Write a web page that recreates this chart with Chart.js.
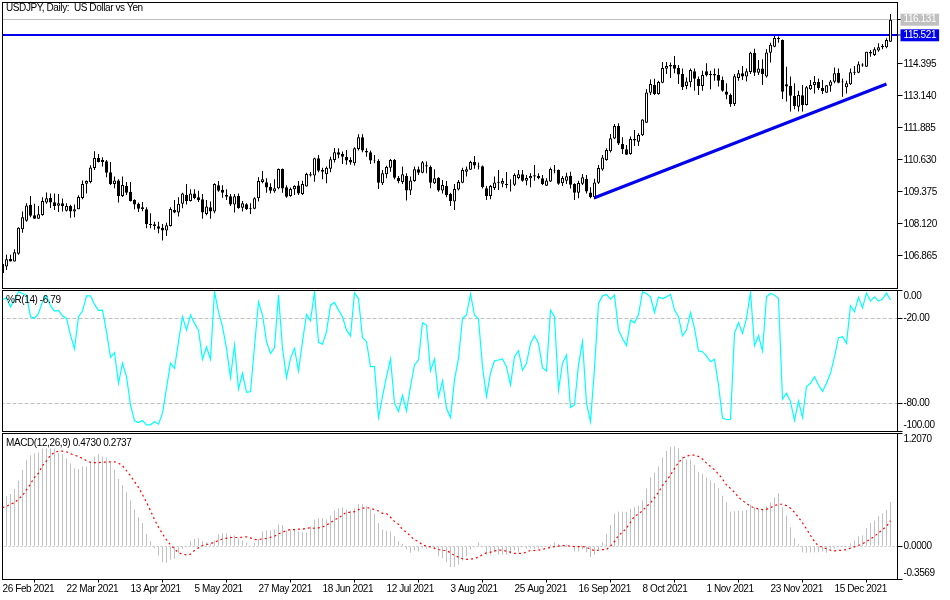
<!DOCTYPE html>
<html lang="en">
<head>
    <meta charset="UTF-8">
    <title>USDJPY, Daily</title>
    <script src="https://cdn.jsdelivr.net/npm/chart.js"></script>
    <style>
        html, body { margin: 0; padding: 0; background: #fff; }
        canvas { position: absolute; left: 0; }
    </style>
</head>
<body>
    <canvas id="priceChart" width="950" height="290" style="top:0"></canvas>
    <canvas id="wprChart" width="950" height="143" style="top:289px"></canvas>
    <canvas id="macdChart" width="950" height="168" style="top:432px"></canvas>
    <script>
        const tickLabels = ['26 Feb 2021', '22 Mar 2021', '13 Apr 2021', '5 May 2021', '27 May 2021', '18 Jun 2021', '12 Jul 2021',
            '3 Aug 2021', '25 Aug 2021', '16 Sep 2021', '8 Oct 2021', '1 Nov 2021', '23 Nov 2021', '15 Dec 2021'];
        const priceTicks = [116.131, 115.521, 114.395, 113.14, 111.885, 110.63, 109.375, 108.12, 106.865];
        const wprTicks = [0, -20, -80, -100];
        const macdTicks = [1.2070, 0, -0.3569];

        const highs = [
            106.55,106.91,106.91,107.13,107.99,108.61,108.93,109.22,108.91,108.83,
            109.17,109.36,109.32,109.32,109.30,109.12,108.93,108.87,108.88,109.25,
            109.83,109.83,110.42,110.97,110.87,110.74,110.63,110.55,109.98,109.87,
            109.98,109.77,109.77,109.09,108.96,108.98,108.78,108.54,108.21,108.21,
            108.12,108.17,108.78,109.06,109.17,109.35,109.69,109.48,109.48,109.42,
            109.30,109.06,109.00,109.72,109.81,109.64,109.48,109.30,109.30,109.32,
            109.02,108.93,108.93,109.17,109.95,110.20,109.91,109.72,109.87,110.30,
            110.30,109.64,109.55,109.64,109.81,109.82,110.13,110.16,110.72,110.83,
            110.33,110.37,110.76,111.10,111.09,110.96,111.02,110.74,111.13,111.64,
            111.64,111.09,111.00,110.83,110.66,110.24,110.40,110.67,110.67,110.00,
            110.37,110.11,109.98,110.37,110.37,110.59,110.57,110.41,110.27,109.95,
            109.85,109.81,109.35,109.69,109.85,110.33,110.37,110.60,110.79,110.53,
            110.41,109.61,109.65,109.98,110.24,109.91,110.16,109.87,110.11,110.24,
            110.24,110.04,110.11,110.43,110.11,110.04,109.91,110.34,110.43,110.26,
            110.00,110.13,110.17,109.72,109.82,110.08,110.04,109.56,109.89,110.43,
            110.83,111.09,111.65,112.04,112.07,111.52,111.22,111.55,111.81,111.68,
            112.23,113.40,113.79,113.82,113.74,114.47,114.47,114.45,114.71,114.36,
            114.22,113.87,114.22,114.22,113.90,114.13,114.42,114.13,114.22,114.22,
            113.90,113.64,113.24,114.00,114.16,114.32,114.22,114.88,114.99,114.55,
            114.58,114.97,115.23,115.49,115.47,115.36,114.29,113.90,113.64,113.35,
            113.57,113.53,113.77,113.92,113.83,113.77,113.57,113.77,114.26,114.22,
            113.83,113.74,114.22,114.32,114.49,114.42,114.88,114.94,115.05,115.21,
            115.18,115.40,116.36];
        const lows = [
            106.16,106.32,106.65,106.65,106.91,107.78,108.21,108.38,108.33,108.33,
            108.44,108.91,108.75,108.67,108.59,108.61,108.61,108.36,108.38,108.70,
            109.09,109.32,109.72,110.24,110.53,110.37,109.95,109.65,109.52,108.96,
            109.18,109.26,109.00,108.70,108.59,108.62,107.95,107.95,107.89,107.76,
            107.47,107.65,108.02,108.54,108.41,108.74,108.88,109.00,109.09,108.98,
            108.33,108.46,108.33,108.54,109.38,109.15,109.06,108.83,108.57,108.72,
            108.61,108.67,108.51,108.70,109.00,109.72,109.35,109.32,109.35,109.48,
            109.35,109.15,109.19,109.26,109.26,109.26,109.59,109.98,109.78,110.15,
            109.87,109.72,110.15,110.53,110.70,110.47,110.44,110.44,110.41,111.00,
            110.93,110.76,110.47,110.50,109.49,109.65,109.91,110.17,109.87,109.72,
            109.69,109.04,109.26,109.78,110.04,110.11,110.11,109.52,109.69,109.38,
            109.32,109.17,108.83,108.67,109.43,109.72,109.98,110.24,110.29,110.26,
            109.51,109.06,109.09,109.45,109.45,109.56,109.52,109.39,109.61,109.87,
            109.78,109.64,109.56,109.82,109.87,109.65,109.61,109.77,110.11,109.66,
            109.61,109.69,109.51,109.06,109.13,109.65,109.32,109.13,109.09,109.69,
            110.21,110.60,110.92,111.44,111.22,110.87,110.83,110.84,111.18,111.18,
            111.57,112.09,113.18,113.18,113.19,113.64,114.00,113.85,114.03,113.61,
            113.38,113.40,113.48,113.35,113.18,113.35,113.90,113.40,113.74,113.51,
            113.31,113.01,112.72,112.75,113.74,113.77,113.71,114.00,113.92,113.96,
            113.57,113.87,114.45,115.05,115.23,113.02,112.92,112.53,112.62,112.53,
            112.53,112.77,113.38,113.24,113.38,113.22,113.27,113.31,113.64,113.64,
            113.11,113.24,113.57,113.96,114.03,114.29,114.29,114.68,114.71,114.88,
            114.97,115.01,115.27];
        const opens = [
            106.55,106.45,106.75,106.65,106.95,107.91,108.25,108.87,108.46,108.33,
            108.47,108.96,109.14,108.97,108.84,108.93,108.64,108.83,108.61,108.70,
            109.14,109.70,109.77,110.32,110.71,110.63,110.58,110.15,109.69,109.83,
            109.22,109.61,109.38,109.06,108.91,108.78,108.70,108.12,108.11,108.03,
            107.97,107.86,108.04,108.67,108.57,108.91,109.26,109.02,109.32,109.17,
            109.09,108.51,108.78,108.61,109.64,109.46,109.26,109.21,108.88,109.22,
            108.76,108.89,108.74,108.72,109.13,109.77,109.76,109.57,109.40,109.52,
            110.28,109.56,109.22,109.48,109.63,109.30,109.59,110.07,110.02,110.70,
            110.24,110.07,110.29,110.63,110.93,110.87,110.75,110.63,110.50,111.06,
            111.52,110.98,110.93,110.63,110.59,109.72,110.07,110.33,110.63,109.93,
            109.77,110.00,109.43,109.81,110.27,110.13,110.42,110.36,109.72,109.93,
            109.43,109.61,109.30,109.00,109.47,109.74,110.17,110.25,110.55,110.40,
            110.38,109.52,109.22,109.53,109.78,109.70,109.69,109.66,109.66,109.92,
            110.07,109.82,109.91,110.03,110.00,109.91,109.62,109.79,110.25,110.24,
            109.72,109.82,110.00,109.69,109.35,109.70,109.89,109.36,109.17,109.74,
            110.26,110.63,110.97,111.47,111.96,111.26,111.05,110.87,111.45,111.35,
            111.60,112.09,113.27,113.57,113.22,113.66,114.21,114.36,114.36,114.24,
            114.00,113.53,113.68,114.11,113.81,113.53,114.11,114.00,114.00,113.96,
            113.77,113.32,113.18,112.83,113.85,114.03,113.90,114.08,114.84,114.05,
            114.22,113.90,114.84,115.07,115.41,115.34,113.60,113.53,113.14,112.72,
            113.17,112.79,113.40,113.57,113.69,113.45,113.27,113.54,113.70,114.05,
            113.71,113.48,113.60,114.05,114.05,114.38,114.29,114.87,114.75,114.92,
            115.10,115.05,115.27];
        const closes = [
            106.19,106.74,106.65,107.01,107.97,108.38,108.85,108.44,108.33,108.50,
            109.02,109.13,108.96,108.83,108.93,108.83,108.83,108.61,108.70,109.18,
            109.69,109.81,110.34,110.71,110.55,110.55,110.13,109.69,109.83,109.22,
            109.65,109.35,109.02,108.88,108.72,108.71,108.12,108.08,108.04,107.93,
            107.86,108.07,108.71,108.57,108.91,109.32,109.02,109.32,109.14,109.06,
            108.57,108.81,108.61,109.69,109.42,109.35,109.19,108.88,109.21,108.75,
            108.93,108.71,108.71,109.13,109.81,109.87,109.55,109.42,109.52,110.28,
            109.51,109.19,109.49,109.61,109.32,109.69,110.08,110.02,110.70,110.21,
            110.17,110.33,110.66,110.93,110.84,110.76,110.61,110.53,111.09,111.52,
            111.00,110.92,110.61,110.61,109.74,110.11,110.36,110.63,109.93,109.80,
            110.07,109.43,109.83,110.27,110.13,110.54,110.37,109.74,109.91,109.43,
            109.65,109.26,109.02,109.49,109.77,110.24,110.27,110.55,110.41,110.37,
            109.56,109.22,109.61,109.75,109.74,109.81,109.65,109.64,110.04,110.07,
            109.82,109.92,110.00,109.98,109.91,109.69,109.83,110.28,110.22,109.70,
            109.92,109.99,109.66,109.35,109.73,109.95,109.39,109.17,109.75,110.32,
            110.73,111.02,111.48,111.96,111.28,111.05,110.84,111.45,111.39,111.61,
            112.22,113.28,113.61,113.22,113.69,114.24,114.32,114.30,114.21,113.98,
            113.48,113.71,114.16,113.82,113.53,113.96,113.95,113.95,113.94,113.74,
            113.35,113.19,112.83,113.91,114.03,113.90,114.11,114.84,114.05,114.22,
            114.00,114.85,115.15,115.41,115.37,113.31,113.51,113.15,112.75,113.18,
            112.79,113.48,113.57,113.69,113.45,113.34,113.56,113.71,114.03,113.66,
            113.68,113.64,114.07,114.09,114.39,114.34,114.88,114.81,114.97,115.05,
            115.05,115.34,116.13];

        const wprValues = [
            -6.4,-5.2,-11.6,-6.8,-0.9,-2.1,-3.3,-18.6,-19.8,-16.3,
            -8.0,-3.8,-10.8,-14.6,-14.1,-17.9,-19.8,-31.6,-41.5,-18.6,
            -14.6,-3.8,-3.8,-9.9,-14.1,-13.9,-29.2,-47.4,-44.1,-65.8,
            -51.6,-61.1,-81.1,-92.4,-93.6,-92.2,-95.3,-95.3,-92.9,-94.8,
            -87.0,-69.3,-51.6,-55.2,-36.3,-18.6,-28.1,-17.4,-23.3,-28.1,
            -48.8,-40.1,-48.8,-0.9,-15.1,-25.7,-41.0,-61.8,-38.7,-69.8,
            -58.7,-72.2,-71.7,-39.9,-8.0,-17.4,-36.3,-44.6,-40.6,-3.3,
            -41.0,-61.8,-48.1,-41.0,-57.1,-36.3,-17.0,-21.5,-0.9,-36.8,
            -38.0,-29.2,-10.4,-8.5,-13.9,-18.6,-28.1,-32.3,-1.7,-5.7,
            -33.5,-36.3,-54.0,-54.0,-90.1,-75.2,-61.1,-48.6,-79.9,-85.8,
            -74.5,-85.4,-68.1,-52.8,-49.3,-22.9,-24.5,-56.8,-48.6,-75.2,
            -64.1,-83.5,-90.1,-63.4,-48.1,-19.8,-17.4,-2.4,-17.4,-20.3,
            -54.0,-75.2,-58.7,-49.8,-49.3,-48.6,-54.0,-67.0,-46.9,-42.7,
            -56.4,-51.6,-37.5,-32.1,-37.5,-54.7,-57.1,-13.9,-18.6,-70.5,
            -51.6,-45.7,-83.0,-81.1,-52.8,-36.3,-79.9,-92.9,-55.2,-9.2,
            -3.8,-2.8,-6.1,-3.3,-28.1,-34.0,-39.1,-21.0,-22.9,-17.0,
            -0.9,-2.1,-4.5,-15.6,-4.7,-5.7,-4.5,-2.8,-13.9,-18.6,
            -32.1,-28.1,-15.6,-26.9,-42.9,-43.4,-46.5,-50.5,-48.8,-67.0,
            -90.5,-91.5,-91.5,-30.4,-22.9,-30.4,-19.8,-1.4,-39.1,-32.1,
            -42.9,-4.5,-2.1,-3.3,-5.7,-77.1,-72.9,-78.8,-92.2,-78.3,
            -90.1,-68.1,-65.8,-61.1,-67.0,-71.7,-65.8,-58.7,-46.9,-33.5,
            -32.8,-37.5,-10.8,-15.1,-4.7,-12.3,-1.9,-7.5,-4.5,-7.5,
            -6.1,-1.7,-6.79];

        const macdHist = [
            .520,.534,.559,.612,.701,.815,.926,.975,.993,1.004,
            1.047,1.047,1.047,1.047,.997,.986,.940,.886,.833,.826,
            .851,.854,.904,.961,.986,.961,.951,.897,.819,.719,
            .655,.577,.488,.392,.310,.249,.132,.053,-.021,-.100,
            -.171,-.178,-.146,-.135,-.071,-.028,-.011,.053,.078,.085,
            .053,.043,.025,.061,.128,.139,.139,.114,.114,.085,
            .061,.036,.007,.036,.078,.157,.167,.167,.178,.231,
            .228,.167,.178,.178,.157,.150,.150,.214,.285,.299,
            .299,.285,.328,.381,.406,.417,.392,.381,.406,.449,
            .449,.427,.392,.345,.249,.178,.164,.157,.107,.053,
            .025,-.036,-.071,-.046,-.057,-.021,-.028,-.011,-.036,-.107,
            -.128,-.171,-.224,-.224,-.199,-.153,-.107,-.036,-.011,.043,
            -.011,-.093,-.093,-.064,-.093,-.093,-.093,-.082,-.046,-.064,
            -.011,-.028,-.021,-.028,-.028,-.011,0,.014,.043,.025,
            .014,.014,0,-.057,-.057,-.036,-.064,-.117,-.093,-.036,
            .043,.132,.228,.345,.370,.370,.370,.399,.417,.434,
            .488,.619,.737,.790,.854,.951,1.022,1.064,1.068,1.050,
            .961,.926,.926,.869,.797,.773,.737,.701,.676,.623,
            .541,.470,.370,.374,.381,.377,.388,.441,.417,.399,
            .392,.427,.470,.523,.566,.417,.328,.203,.085,.021,
            -.064,-.071,-.064,-.064,-.064,-.057,-.071,-.028,-.028,-.011,
            -.011,-.004,.032,.061,.107,.114,.192,.249,.274,.320,
            .352,.388,.4730];
        const macdSignal = [
            .413,.427,.452,.463,.506,.541,.605,.666,.737,.783,
            .862,.915,.975,1.004,1.018,1.018,1.011,.990,.975,.961,
            .940,.918,.897,.894,.894,.901,.901,.904,.904,.890,
            .862,.808,.755,.691,.630,.552,.470,.381,.285,.203,
            .132,.068,.014,-.028,-.071,-.085,-.093,-.085,-.046,-.018,
            .007,.018,.028,.043,.061,.078,.085,.093,.093,.093,
            .096,.100,.089,.071,.071,.078,.085,.096,.107,.132,
            .150,.167,.178,.178,.182,.182,.192,.196,.192,.196,
            .203,.228,.249,.285,.299,.335,.363,.363,.370,.392,
            .406,.413,.406,.392,.377,.352,.349,.310,.263,.235,
            .178,.150,.107,.068,.050,.014,0,-.007,-.021,-.036,
            -.046,-.046,-.071,-.100,-.117,-.135,-.142,-.135,-.135,-.114,
            -.093,-.071,-.064,-.050,-.043,-.043,-.053,-.064,-.078,-.078,
            -.078,-.064,-.046,-.046,-.043,-.036,-.021,-.014,-.004,0,
            .007,.007,0,-.004,-.004,-.004,-.011,-.036,-.046,-.043,
            -.036,-.036,0,.050,.114,.150,.192,.256,.320,.345,
            .381,.427,.463,.520,.577,.648,.701,.762,.833,.897,
            .940,.965,.975,.975,.961,.933,.890,.854,.819,.773,
            .719,.655,.619,.577,.523,.488,.459,.427,.409,.399,
            .392,.395,.413,.434,.449,.449,.434,.406,.363,.310,
            .249,.185,.114,.050,0,-.011,-.028,-.043,-.050,-.046,
            -.043,-.036,-.021,-.007,.007,.025,.050,.078,.107,.142,
            .178,.214,.2737];

        const levelPrice = 115.521;
        const lastPrice = 116.131;
        const trendFromIndex = 148, trendFromPrice = 109.15;
        const trendToIndex = 221, trendToPrice = 113.61;

        // one spare slot on the right, labels every 16 bars
        const categories = [];
        for (let i = 0; i < 224; i++) {
            categories.push(i % 16 === 0 && tickLabels[i / 16] ? tickLabels[i / 16] : '');
        }
        const wicks = highs.map((h, i) => [lows[i], h]);
        const bodies = opens.map((o, i) => [Math.min(o, closes[i]), Math.max(o, closes[i])]);
        const trendLine = categories.map((c, i) => i === trendFromIndex ? trendFromPrice : i === trendToIndex ? trendToPrice : null);

        const axisFont = { family: '"Liberation Sans", sans-serif', size: 10 };
        const BLUE = '#0000ee';
        const SILVER = '#c0c0c0';

        // tight text, caption, frame around the plot
        const panelFrame = {
            id: 'panelFrame',
            beforeUpdate(chart) {
                chart.ctx.letterSpacing = '-0.4px';
            },
            afterDatasetsDraw(chart, args, opts) {
                const ctx = chart.ctx, area = chart.chartArea;
                ctx.save();
                ctx.clearRect(0, 0, 2, chart.height);
                ctx.strokeStyle = '#000';
                ctx.lineWidth = 1;
                ctx.strokeRect(2.5, area.top, 895, area.height);
                ctx.fillStyle = '#000';
                ctx.font = '10px ' + axisFont.family;
                ctx.textBaseline = 'middle';
                ctx.fillText(opts.text, 6, area.top + opts.offset);
                ctx.restore();
            }
        };

        function hiddenX() {
            return { display: false, offset: true, grid: { display: false } };
        }

        function rightAxis(min, max, values, format, grid, ticks) {
            return {
                position: 'right',
                min: min,
                max: max,
                border: Object.assign({ display: false }, grid.dash ? { dash: grid.dash } : {}),
                grid: {
                    color: grid.color,
                    lineWidth: grid.lineWidth || 1,
                    tickColor: '#000',
                    tickWidth: 1,
                    tickLength: 6
                },
                ticks: Object.assign({
                    font: axisFont,
                    color: '#000',
                    padding: 1,
                    autoSkip: false,
                    callback: format
                }, ticks || {}),
                afterBuildTicks(scale) {
                    scale.ticks = values.map(v => ({ value: v }));
                },
                afterFit(scale) {
                    scale.width = 53.5;
                    scale.paddingTop = 0;
                    scale.paddingBottom = 0;
                }
            };
        }

        function baseOptions(caption, captionOffset, padding, scales) {
            return {
                responsive: false,
                animation: false,
                events: [],
                layout: { padding: padding },
                scales: scales,
                plugins: {
                    legend: { display: false },
                    tooltip: { enabled: false },
                    panelFrame: { text: caption, offset: captionOffset }
                }
            };
        }

        new Chart(document.getElementById('priceChart'), {
            type: 'bar',
            plugins: [panelFrame],
            data: {
                labels: categories,
                datasets: [
                    {
                        type: 'line',
                        label: 'Trend',
                        data: trendLine,
                        borderColor: BLUE,
                        borderWidth: 3,
                        pointRadius: 0,
                        spanGaps: true,
                        order: 1
                    },
                    {
                        label: 'Body',
                        data: bodies,
                        grouped: false,
                        barThickness: 3,
                        borderWidth: 1,
                        borderSkipped: false,
                        inflateAmount: 0,
                        borderColor: '#000',
                        backgroundColor: ctx => closes[ctx.dataIndex] >= opens[ctx.dataIndex] ? '#fff' : '#000',
                        order: 2
                    },
                    {
                        label: 'Wick',
                        data: wicks,
                        grouped: false,
                        barThickness: 1,
                        inflateAmount: 0,
                        backgroundColor: '#000',
                        order: 3
                    }
                ]
            },
            options: baseOptions('USDJPY, Daily:  US Dollar vs Yen', 6, { left: 0.5, top: 2.5, bottom: 1.5 }, {
                x: hiddenX(),
                y: rightAxis(105.59, 116.807, priceTicks, v => v.toFixed(3), {
                    color: c => c.tick && c.tick.value === levelPrice ? BLUE : c.tick && c.tick.value === lastPrice ? SILVER : 'transparent',
                    lineWidth: c => c.tick && c.tick.value === levelPrice ? 2 : 1
                }, {
                    color: c => c.tick && (c.tick.value === levelPrice || c.tick.value === lastPrice) ? '#fff' : '#000',
                    showLabelBackdrop: c => !!c.tick && (c.tick.value === levelPrice || c.tick.value === lastPrice),
                    backdropColor: c => c.tick && c.tick.value === levelPrice ? BLUE : SILVER,
                    backdropPadding: { left: 3, right: 3, top: 0, bottom: 0 }
                })
            })
        });

        new Chart(document.getElementById('wprChart'), {
            type: 'line',
            plugins: [panelFrame],
            data: {
                labels: categories,
                datasets: [{
                    label: '%R(14)',
                    data: wprValues,
                    borderColor: '#00ffff',
                    borderWidth: 1.2,
                    pointRadius: 0,
                    tension: 0
                }]
            },
            options: baseOptions('%R(14) -6.79', 9.5, { left: 0.5, top: 1.5, bottom: 0.5 }, {
                x: hiddenX(),
                y: rightAxis(-100, 0, wprTicks, v => {
                    const s = v.toFixed(2);
                    return v === 0 ? ['', s] : v === -100 ? [s, ''] : s;
                }, {
                    color: c => c.tick && (c.tick.value === -20 || c.tick.value === -80) ? SILVER : 'transparent',
                    dash: [4, 2]
                })
            })
        });

        new Chart(document.getElementById('macdChart'), {
            type: 'bar',
            plugins: [panelFrame],
            data: {
                labels: categories,
                datasets: [
                    {
                        type: 'line',
                        label: 'Signal',
                        data: macdSignal,
                        borderColor: '#ff0000',
                        borderWidth: 1.2,
                        borderDash: [2, 3],
                        pointRadius: 0,
                        order: 1
                    },
                    {
                        label: 'MACD',
                        data: macdHist,
                        barThickness: 1,
                        inflateAmount: 0,
                        backgroundColor: SILVER,
                        order: 2
                    }
                ]
            },
            options: baseOptions('MACD(12,26,9) 0.4730 0.2737', 9.5, { left: 0.5, top: 1.5 }, {
                x: {
                    offset: true,
                    border: { display: false },
                    grid: { drawOnChartArea: false, tickColor: '#000', tickLength: 3 },
                    ticks: { font: axisFont, color: '#000', autoSkip: false, maxRotation: 0, align: 'start', padding: 1 },
                    afterBuildTicks(scale) {
                        scale.ticks = scale.ticks.filter(t => categories[t.value]);
                    },
                    afterFit(scale) {
                        scale.height = 20.5;
                        scale.paddingLeft = 0;
                        scale.paddingRight = 0;
                    }
                },
                y: rightAxis(-0.3569, 1.2070, macdTicks, v => {
                    const s = v.toFixed(4);
                    return v === 1.2070 ? ['', s] : v === -0.3569 ? [s, ''] : s;
                }, {
                    color: c => c.tick && c.tick.value === 0 ? SILVER : 'transparent',
                    dash: [2, 2]
                })
            })
        });
    </script>
</body>
</html>
